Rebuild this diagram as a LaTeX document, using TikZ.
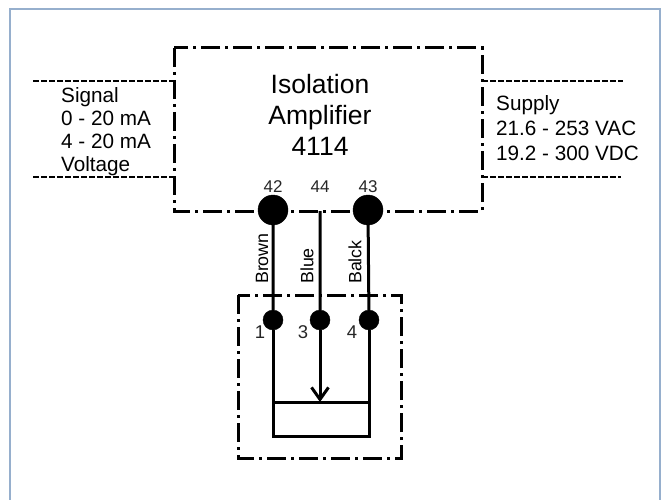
\documentclass[tikz,border=0pt]{standalone}
\usepackage{fontspec}
\setmainfont{Liberation Sans}
\usetikzlibrary{arrows.meta}
\usetikzlibrary{positioning}
\definecolor{framecol}{RGB}{150,175,205}
\tikzset{
chain/.style={line width=3pt, dash pattern=on 19pt off 5pt on 3pt off 5pt},
sigline/.style={line width=2.4pt, dash pattern=on 6pt off 2pt},
wire/.style={line width=3pt},
term/.style={draw, circle, fill=black, inner sep=0pt, minimum size=30pt},
pin/.style={draw, circle, fill=black, inner sep=0pt, minimum size=20pt},
lab/.style={inner sep=0pt, font=\fontsize{20.7}{23}\selectfont},
num/.style={inner sep=0pt, font=\fontsize{17}{19}\selectfont, text=black!85},
pinnum/.style={inner sep=0pt, font=\fontsize{18.5}{20}\selectfont, text=black!85},
wirelab/.style={inner sep=0pt, font=\fontsize{17.8}{20}\selectfont, rotate=90, anchor=west}
}
\begin{document}
\begin{tikzpicture}[x=1pt, y=-1pt]
\useasboundingbox (0,0) rectangle (664,500);
\draw[framecol, line width=1.2pt] (10,500) -- (10,9) -- (660,9) -- (660,500);
\coordinate (ampa) at (174,48);
\coordinate (ampb) at (482,211);
\coordinate (sensa) at (238,295);
\coordinate (sensb) at (401,458);
\draw[chain] (ampa) rectangle (ampb);
\draw[chain] (sensa) rectangle (sensb);
\node[align=center, inner sep=0pt, font=\fontsize{26.5}{31}\selectfont] (title) at (320,115) {Isolation\\Amplifier\\4114};
% signal and supply
\coordinate (s1) at (33,81);
\coordinate (s2) at (174,81);
\coordinate (s3) at (33,177);
\coordinate (s4) at (174,177);
\coordinate (p1) at (482,81);
\coordinate (p2) at (623,81);
\coordinate (p3) at (482,177);
\coordinate (p4) at (621,177);
\draw[sigline] (s1) -- (s2) (s3) -- (s4) (p1) -- (p2) (p3) -- (p4);
\node[lab, align=left, anchor=north west] (signal) at (61,87) {Signal\\0 - 20 mA\\4 - 20 mA\\Voltage};
\node[lab, align=left, anchor=north west, font=\fontsize{20.7}{25}\selectfont] (supply) at (496,95) {Supply\\21.6 - 253 VAC\\19.2 - 300 VDC};
% terminals
\node[term] (42) at (273,210) {};
\node[term] (43) at (368,210) {};
\coordinate (44) at (320,211);
\node[num, above=2pt of 42] (t42) {42};
\node[num, above=18pt of 44] (t44) {44};
\node[num, above=2pt of 43] (t43) {43};
\node[pin] (1) at (273,320) {};
\node[pin] (3) at (320,320) {};
\node[pin] (4) at (369,320) {};
\node[pinnum] (n1) at (260,332) {1};
\node[pinnum] (n3) at (303,332) {3};
\node[pinnum] (n4) at (352,332) {4};
\coordinate (r1) at (273,402);
\coordinate (r2) at (320,402);
\coordinate (r3) at (369,402);
\coordinate (r4) at (369,436);
\coordinate (r5) at (273,436);
\draw[wire] (42) -- (1) (44) -- (3) (43) -- (4);
\draw[wire] (1) -- (r1) -- (r5) -- (r4) -- (r3) -- (4);
\draw[wire] (r1) -- (r3);
\draw[wire, -{Straight Barb[length=12pt, width=17pt]}] (3) -- (r2);
\node[wirelab] (brown) at (262,284) {Brown};
\node[wirelab] (blue) at (307,284) {Blue};
\node[wirelab] (balck) at (355,284) {Balck};
\end{tikzpicture}
\end{document}
